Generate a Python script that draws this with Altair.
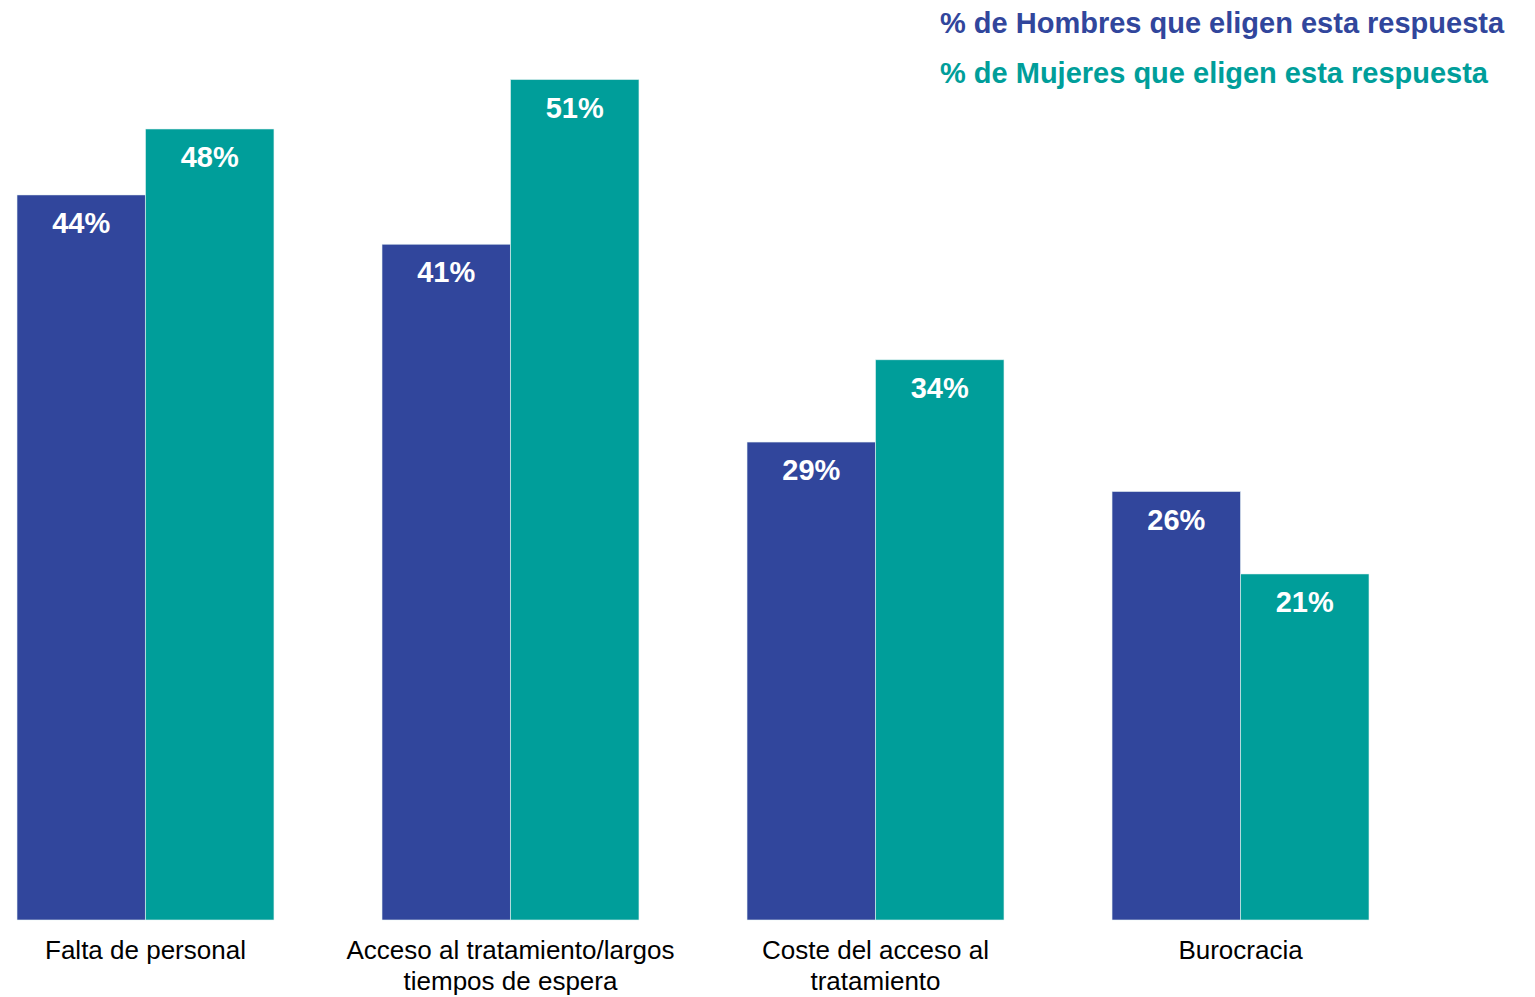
import altair as alt
import pandas as pd

categorias = [
    "Falta de personal",
    "Acceso al tratamiento/largos|tiempos de espera",
    "Coste del acceso al|tratamiento",
    "Burocracia",
]
hombres = [44, 41, 29, 26]
mujeres = [48, 51, 34, 21]
series = ["% de Hombres que eligen esta respuesta", "% de Mujeres que eligen esta respuesta"]
colores = ["#31469C", "#009E9A"]

rows = []
for c, h, m in zip(categorias, hombres, mujeres):
    rows.append({"cat": c, "serie": series[0], "valor": h, "etiqueta": f"{h}%"})
    rows.append({"cat": c, "serie": series[1], "valor": m, "etiqueta": f"{m}%"})
df = pd.DataFrame(rows)

FONT = "Liberation Sans"
color_scale = alt.Scale(domain=series, range=colores)

x = alt.X(
    "cat:N",
    sort=categorias,
    scale=alt.Scale(paddingInner=0.296, paddingOuter=0),
    axis=alt.Axis(
        title=None, labelAngle=0, domain=False, ticks=False,
        labelExpr="split(datum.label, '|')",
        labelFont=FONT, labelFontSize=26, labelColor="#000000", labelLimit=0,
        labelPadding=17, labelLineHeight=31, labelBaseline="top",
    ),
)
xo = alt.XOffset("serie:N", sort=series)
y = alt.Y("valor:Q", scale=alt.Scale(domain=[0, 55.34], nice=False), axis=None)

base = alt.Chart(df).encode(x=x, xOffset=xo, y=y)

bars = base.mark_bar(stroke="#E8F4F4", strokeWidth=0.6).encode(
    color=alt.Color("serie:N", scale=color_scale, legend=None)
)
labels = base.mark_text(
    font=FONT, fontSize=29, fontWeight="bold", color="white",
    baseline="middle", dy=29,
).encode(text="etiqueta:N")

leg1 = alt.Chart(pd.DataFrame({"t": [series[0]]})).mark_text(
    font=FONT, fontSize=29, fontWeight="bold", color=colores[0],
    align="left", baseline="middle",
).encode(text="t:N", x=alt.value(923), y=alt.value(16))
leg2 = alt.Chart(pd.DataFrame({"t": [series[1]]})).mark_text(
    font=FONT, fontSize=29, fontWeight="bold", color=colores[1],
    align="left", baseline="middle",
).encode(text="t:N", x=alt.value(923), y=alt.value(66))

chart = (
    alt.layer(bars, labels, leg1, leg2)
    .properties(width=1352, height=912, padding={"left": 8, "top": 0, "right": 8, "bottom": 5})
    .configure_view(stroke=None)
)

chart.save("out.html", embed_options={"renderer": "svg", "actions": False})
